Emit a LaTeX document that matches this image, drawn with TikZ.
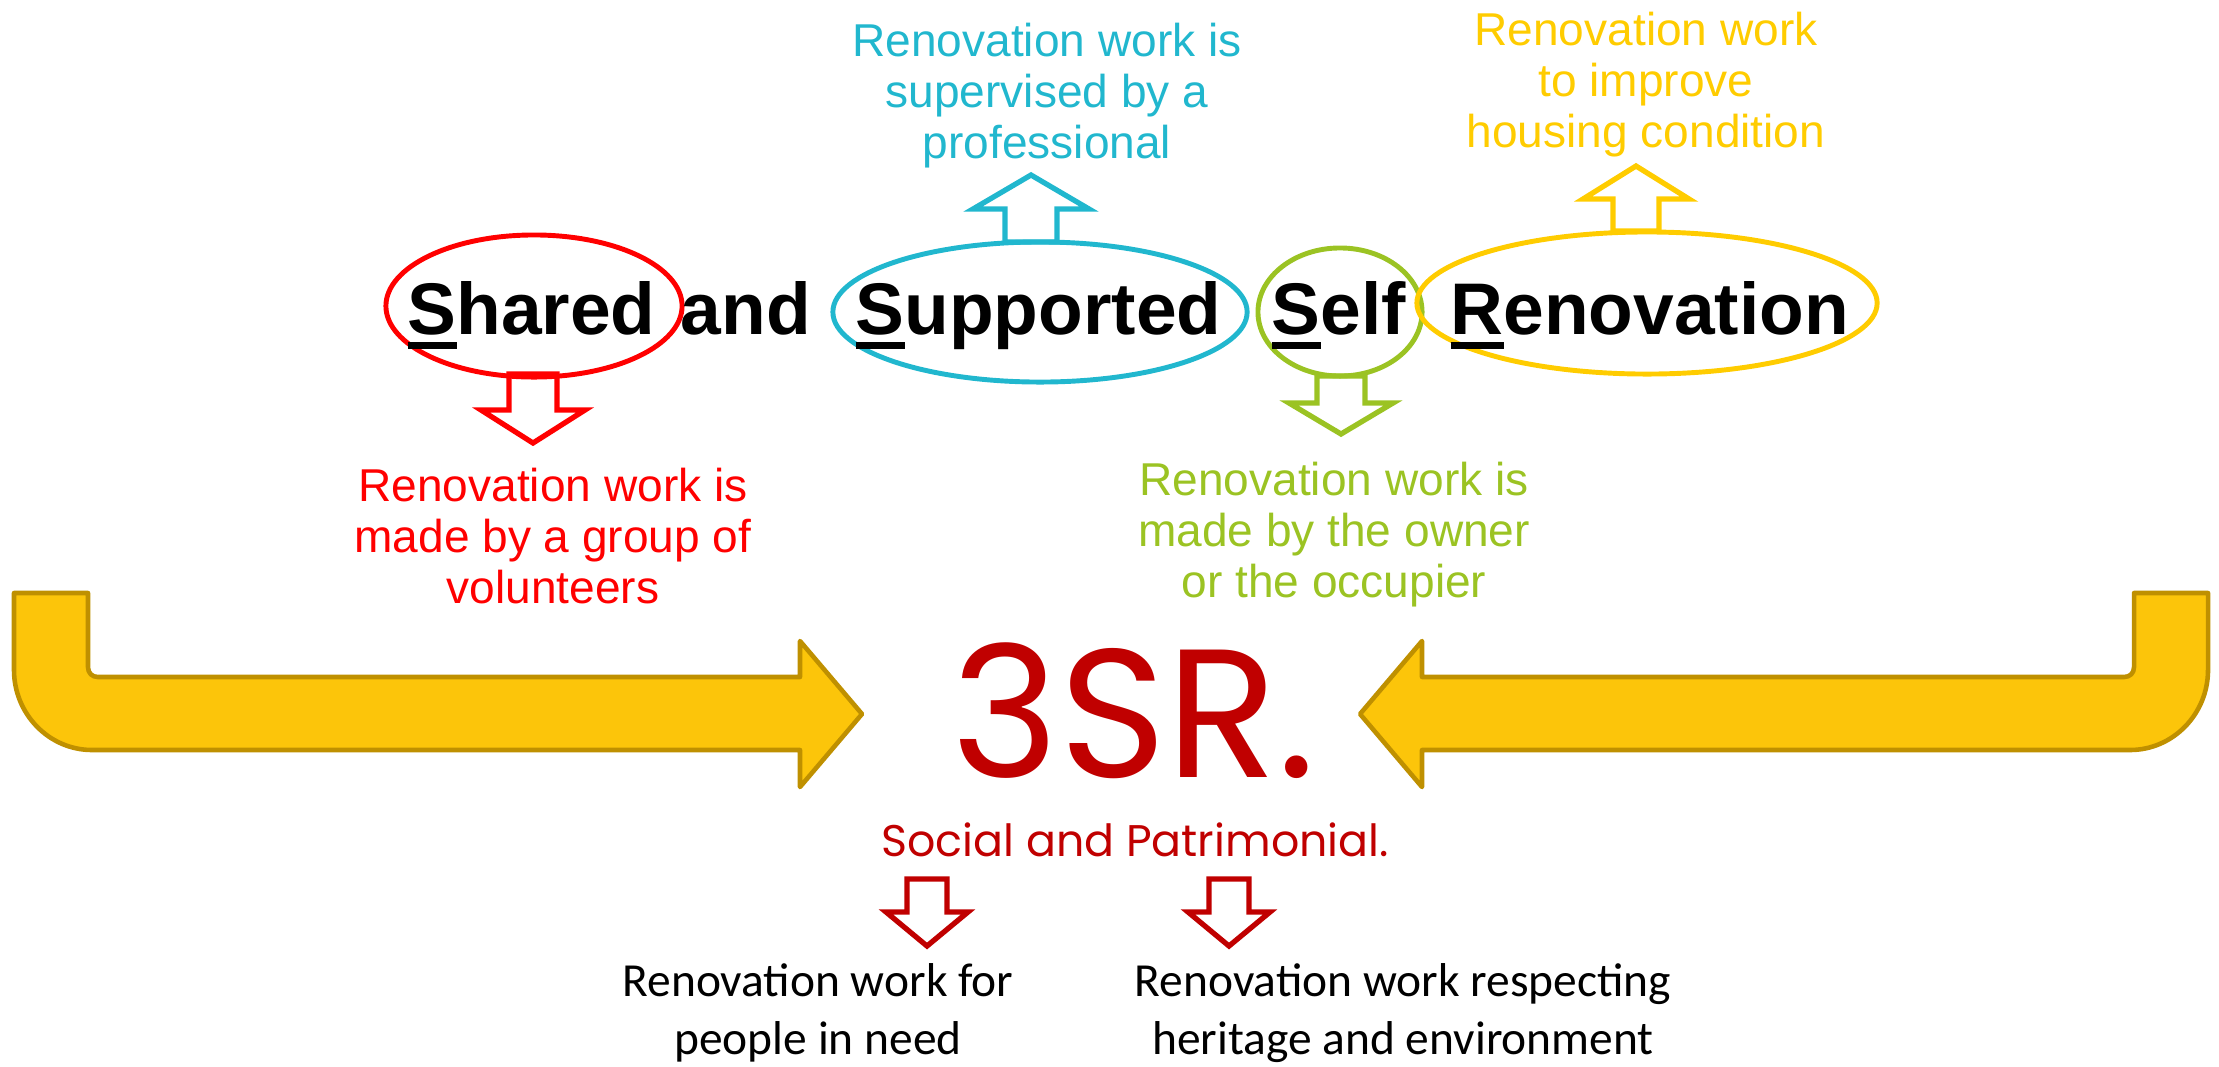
\documentclass[tikz,border=0pt]{standalone}
\usepackage{fontspec}
\setmainfont{Liberation Sans}
\newfontfamily\comicfont{Poppins}
\newfontfamily\calfont{Carlito}
\usetikzlibrary{shapes.geometric}
\usetikzlibrary{positioning}
\definecolor{ssred}{RGB}{255,0,0}
\definecolor{sscyan}{RGB}{33,183,206}
\definecolor{ssgreen}{RGB}{155,195,35}
\definecolor{ssyellow}{RGB}{255,204,0}
\definecolor{ssdark}{RGB}{192,0,0}
\definecolor{goldfill}{RGB}{252,197,10}
\definecolor{goldline}{RGB}{191,144,0}
\tikzstyle{word}=[inner sep=0pt,anchor=base west,font=\bfseries\fontsize{20.8}{25}\selectfont]
\tikzstyle{ring}=[ellipse,draw,line width=1.4pt,inner sep=0pt]
\tikzstyle{note}=[inner sep=0pt,anchor=base,align=center,font=\fontsize{13.1}{14.5}\selectfont]
\tikzstyle{lower}=[inner sep=0pt,anchor=base,align=center,font=\calfont\fontsize{13.5}{16.5}\selectfont]
\tikzstyle{hollow}=[line width=1.5pt,line join=miter]
\tikzstyle{bigarrow}=[draw=goldline,fill=goldfill,line width=1.3pt,line join=round]
\newcommand\firstul[1]{\setbox0\hbox{#1}\rlap{\rule[-0.205em]{\wd0}{0.1em}}\box0}

\begin{document}
\begin{tikzpicture}[x=0.01cm,y=-0.01cm]
    \useasboundingbox (0,0) rectangle (2219,1066);

    % the two big bent arrows
    \draw[bigarrow] (14,593) -- (88,593) -- (88,667) .. controls (88,673) and (92,677) .. (98,677)
        -- (800,677) -- (800,641) -- (862,714) -- (800,787) -- (800,750) -- (92,750)
        .. controls (49,750) and (14,714) .. (14,670) -- cycle;
    \draw[bigarrow] (2208,593) -- (2134,593) -- (2134,667) .. controls (2134,673) and (2130,677) .. (2124,677)
        -- (1422,677) -- (1422,641) -- (1360,714) -- (1422,787) -- (1422,750) -- (2130,750)
        .. controls (2173,750) and (2208,714) .. (2208,670) -- cycle;

    % rings round the words
    \foreach \name/\px/\py/\w/\h/\col in {ovShared/534/306/2.96/1.42/ssred, ovSupported/1040/312/4.14/1.40/sscyan,
        ovSelf/1340/312/1.64/1.28/ssgreen, ovRenov/1647/303/4.60/1.42/ssyellow}
        \node[ring,draw=\col,minimum width=\w cm,minimum height=\h cm] (\name) at (\px,\py) {};

    % title words
    \node[word] (shared) at (407,334) {\firstul{S}hared};
    \node[word] (and) at (680,334) {and};
    \node[word] (supported) at (855,334) {\firstul{S}upported};
    \node[word] (self) at (1271,334) {\firstul{S}elf};
    \node[word] (renov) at (1450,334) {\firstul{R}enovation};

    % hollow arrows
    \foreach \cx/\ya/\yb/\yc/\sw/\hw/\col in {533/374/410/443/24/52/ssred, 1031/242/209/175/26/58/sscyan,
        1341/376/403/434/24/52/ssgreen, 1636/231/199/166/23/53/ssyellow,
        927/879/912/946/20/41/ssdark, 1229/879/912/946/20/41/ssdark}
        \draw[hollow,draw=\col] (\cx-\sw,\ya) -- (\cx-\sw,\yb) -- (\cx-\hw,\yb) -- (\cx,\yc)
            -- (\cx+\hw,\yb) -- (\cx+\sw,\yb) -- (\cx+\sw,\ya) -- cycle;

    % meanings (anchored on the last line)
    \node[note,text=ssred] (volunteers) at (553,603) {Renovation work is\\made by a group of\\volunteers};
    \node[note,text=sscyan] (professional) at (1047,158) {Renovation work is\\supervised by a\\professional};
    \node[note,text=ssyellow] (housing) at (1646,147) {Renovation work\\to improve\\housing condition};
    \node[note,text=ssgreen] (owner) at (1334,597) {Renovation work is\\made by the owner\\or the occupier};

    \node[inner sep=0pt,anchor=base,text=ssdark,font=\comicfont\fontsize{52}{60}\selectfont] (tsr) at (1134,777) {3SR.};
    \node[inner sep=0pt,anchor=base,text=ssdark,font=\comicfont\fontsize{12.6}{15}\selectfont] (social) at (1135,856) {Social and Patrimonial.};

    \node[lower] (need) at (818,1054) {Renovation work for\\people in need};
    \node[lower] (heritage) at (1403,1054) {Renovation work respecting\\heritage and environment};
\end{tikzpicture}
\end{document}
